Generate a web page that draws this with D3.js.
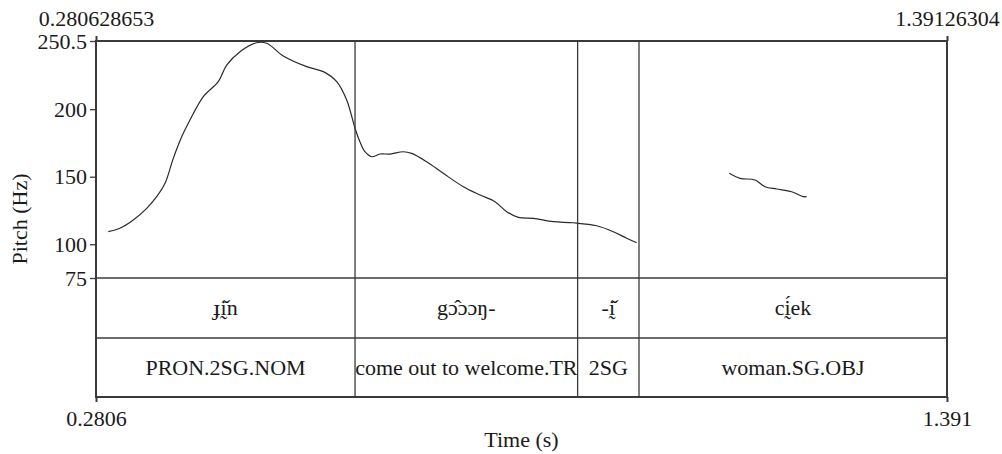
<!DOCTYPE html>
<html>
<head>
<meta charset="utf-8">
<script src="https://cdn.jsdelivr.net/npm/d3@7"></script>
<style>
  html, body { margin: 0; padding: 0; background: #fff; }
  svg text { font-family: "Liberation Serif", "Times New Roman", serif; fill: #1a1a1a; }
</style>
</head>
<body>
<svg id="chart" width="1002" height="454"></svg>
<script>
// ---- Data ----
const timeStart = 0.280628653;
const timeEnd = 1.39126304;
const timeStartTopLabel = "0.280628653";
const timeEndTopLabel = "1.39126304";
const timeStartBottomLabel = "0.2806";
const timeEndBottomLabel = "1.391";

const pitchMin = 75;
const pitchMax = 250.5;
const pitchTicks = [75, 100, 150, 200, 250.5];

// interval boundaries (s)
const boundaries = [0.6187, 0.9092, 0.9893];

// tier labels
const tier1Labels = ["ɟḭ̌n", "gɔ̂ɔɔŋ-", "-ḭ̌", "cḭ́ek"];
const tier2Labels = ["PRON.2SG.NOM", "come out to welcome.TR", "2SG", "woman.SG.OBJ"];

// pitch track, voiced segment 1
const pitchTime1 = [0.2967, 0.3119, 0.3293, 0.3468, 0.3598, 0.3707, 0.3815, 0.3925, 0.4033, 0.4207,
  0.4402, 0.4512, 0.4686, 0.4903, 0.5034, 0.5251, 0.5556, 0.5773, 0.5948, 0.6078,
  0.6186, 0.6252, 0.6317, 0.6404, 0.6513, 0.6643, 0.6817, 0.6926, 0.7122, 0.7339,
  0.7600, 0.7818, 0.8013, 0.8166, 0.8318, 0.8513, 0.8774, 0.9035, 0.9341, 0.9557,
  0.9732, 0.9863];
const pitchHz1 = [109.3, 111.8, 117.9, 126.6, 135.2, 145.1, 163.6, 179.6, 192.0, 209.3,
  220.4, 232.7, 242.6, 249.2, 248.8, 239.4, 231.5, 227.8, 220.4, 206.8,
  186.1, 175.7, 168.5, 164.8, 166.8, 166.8, 168.5, 167.3, 161.1, 152.5,
  142.6, 136.5, 131.5, 124.1, 119.9, 119.2, 116.7, 115.9, 113.7, 109.3,
  104.4, 101.1];

// pitch track, voiced segment 2
const pitchTime2 = [1.1071, 1.1211, 1.1407, 1.1537, 1.1690, 1.1886, 1.2037, 1.2081];
const pitchHz2 = [152.5, 148.8, 147.6, 142.6, 140.9, 138.9, 135.2, 135.2];

// ---- Layout ----
const mLeft = 96, mRight = 947, mTop = 41, pitchBottom = 278, tierMid = 338, mBottom = 397;
const fontSize = 22;
const lineColor = "#3a3a3a";

const svg = d3.select("#chart");
const x = d3.scaleLinear().domain([timeStart, timeEnd]).range([mLeft, mRight]);
const y = d3.scaleLinear().domain([pitchMin, pitchMax]).range([pitchBottom, mTop]);

// pitch curves
const line = d3.line().x(d => x(d[0])).y(d => y(d[1])).curve(d3.curveCatmullRom.alpha(0.5));
const seg1 = pitchTime1.map((t, i) => [t, pitchHz1[i]]);
const seg2 = pitchTime2.map((t, i) => [t, pitchHz2[i]]);
svg.selectAll("path.pitch").data([seg1, seg2]).join("path")
  .attr("class", "pitch")
  .attr("d", line)
  .attr("fill", "none")
  .attr("stroke", "#2a2a2a")
  .attr("stroke-width", 1.2)
  .attr("stroke-linejoin", "round");

// interval boundaries
svg.selectAll("line.bound").data(boundaries).join("line")
  .attr("class", "bound")
  .attr("x1", d => x(d)).attr("x2", d => x(d))
  .attr("y1", mTop).attr("y2", mBottom)
  .attr("stroke", lineColor).attr("stroke-width", 1.3);

// tier separators
svg.selectAll("line.tier").data([pitchBottom, tierMid]).join("line")
  .attr("class", "tier")
  .attr("x1", mLeft).attr("x2", mRight)
  .attr("y1", d => d).attr("y2", d => d)
  .attr("stroke", lineColor).attr("stroke-width", 1.3);

// frame
svg.append("rect")
  .attr("x", mLeft).attr("y", mTop)
  .attr("width", mRight - mLeft).attr("height", mBottom - mTop)
  .attr("fill", "none").attr("stroke", lineColor).attr("stroke-width", 2);

// tier labels
const edges = [timeStart, ...boundaries, timeEnd];
const mids = tier1Labels.map((_, i) => (edges[i] + edges[i + 1]) / 2);
svg.selectAll("text.t1").data(tier1Labels).join("text")
  .attr("class", "t1")
  .attr("x", (d, i) => x(mids[i]))
  .attr("y", (pitchBottom + tierMid) / 2)
  .attr("dy", "0.33em")
  .attr("text-anchor", "middle")
  .attr("font-size", fontSize)
  .text(d => d);
svg.selectAll("text.t2").data(tier2Labels).join("text")
  .attr("class", "t2")
  .attr("x", (d, i) => x(mids[i]))
  .attr("y", (tierMid + mBottom) / 2)
  .attr("dy", "0.33em")
  .attr("text-anchor", "middle")
  .attr("font-size", fontSize)
  .text(d => d);

// y axis
const yAxis = d3.axisLeft(y).tickValues(pitchTicks).tickSize(6).tickPadding(3)
  .tickFormat(d => d === 250.5 ? "250.5" : d3.format("d")(d));
const gy = svg.append("g").attr("transform", `translate(${mLeft},0)`).call(yAxis);
gy.select(".domain").remove();
gy.selectAll("line").attr("stroke", lineColor).attr("stroke-width", 1.3);
gy.selectAll("text").attr("font-size", fontSize).attr("font-family", "Liberation Serif").attr("fill", "#1a1a1a");

// top time axis
const topLabels = new Map([[timeStart, timeStartTopLabel], [timeEnd, timeEndTopLabel]]);
const xTop = d3.axisTop(x).tickValues([timeStart, timeEnd]).tickSize(5).tickPadding(10)
  .tickFormat(d => topLabels.get(d));
const gt = svg.append("g").attr("transform", `translate(0,${mTop})`).call(xTop);
gt.select(".domain").remove();
gt.selectAll("line").attr("stroke", lineColor).attr("stroke-width", 2);
gt.selectAll("text").attr("font-size", fontSize).attr("font-family", "Liberation Serif").attr("fill", "#1a1a1a");

// bottom time axis
const botLabels = new Map([[timeStart, timeStartBottomLabel], [timeEnd, timeEndBottomLabel]]);
const xBot = d3.axisBottom(x).tickValues([timeStart, timeEnd]).tickSize(5).tickPadding(8)
  .tickFormat(d => botLabels.get(d));
const gb = svg.append("g").attr("transform", `translate(0,${mBottom})`).call(xBot);
gb.select(".domain").remove();
gb.selectAll("line").attr("stroke", lineColor).attr("stroke-width", 2);
gb.selectAll("text").attr("font-size", fontSize).attr("font-family", "Liberation Serif").attr("fill", "#1a1a1a");

// axis titles
svg.append("text")
  .attr("x", (mLeft + mRight) / 2).attr("y", 447)
  .attr("text-anchor", "middle").attr("font-size", fontSize)
  .text("Time (s)");
svg.append("text")
  .attr("transform", `translate(27,${(mTop + mBottom) / 2}) rotate(-90)`)
  .attr("text-anchor", "middle").attr("font-size", fontSize)
  .text("Pitch (Hz)");
</script>
</body>
</html>
